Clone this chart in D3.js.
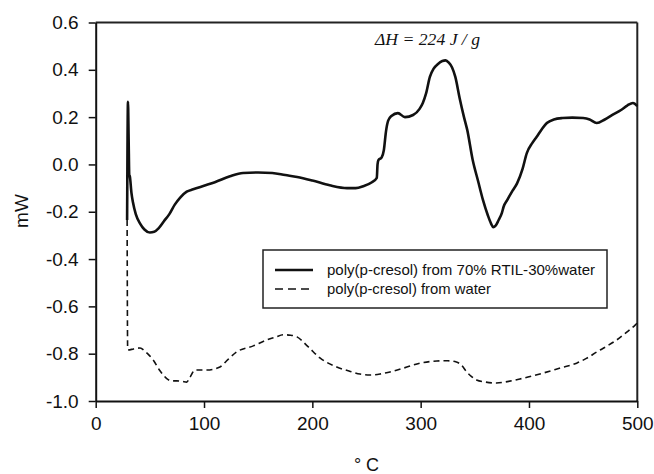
<!DOCTYPE html>
<html>
<head>
<meta charset="utf-8">
<script src="https://cdn.jsdelivr.net/npm/d3@7"></script>
<style>
  body { margin: 0; background: #fff; }
  svg { display: block; }
  .tick text { font-family: Arial, "Liberation Sans", sans-serif; font-size: 19px; fill: #111; }
</style>
</head>
<body>
<div id="chart"></div>
<script>

// temperature (°C) and heat flow (mW)
const tempsRtil = [29, 29.8, 30.4, 31, 31.5, 33, 34.4, 37, 41, 45, 50, 54, 58, 63, 68, 73, 78, 84, 90, 100,
  110, 124, 136, 150, 163, 175, 186, 200, 216, 232, 240, 247, 255, 259.5, 260.2, 261, 264, 266, 268, 270,
  273, 279, 285.5, 293, 299, 302, 305, 308.5, 312, 316, 320, 323, 326, 329, 332, 336, 340, 343, 348, 353,
  357.5, 362, 365, 367, 369, 372, 375, 376.5, 380, 385, 389, 394, 398, 403, 407, 412, 416.5, 423, 431, 440,
  450, 456, 462.5, 470, 477, 485, 491, 496, 500];
const valuesRtil = [-0.235, 0.265, 0.11, -0.045, -0.05, -0.12, -0.16, -0.21, -0.25, -0.275, -0.288, -0.285, -0.27, -0.24, -0.21, -0.17, -0.14, -0.115, -0.105, -0.09,
  -0.075, -0.05, -0.036, -0.034, -0.036, -0.045, -0.053, -0.068, -0.088, -0.1, -0.1, -0.092, -0.075, -0.057, 0.0, 0.018, 0.03, 0.06, 0.14, 0.185,
  0.205, 0.217, 0.2, 0.209, 0.235, 0.26, 0.3, 0.37, 0.405, 0.425, 0.437, 0.44, 0.43, 0.41, 0.37, 0.28, 0.2, 0.146, 0.02, -0.07,
  -0.15, -0.215, -0.25, -0.265, -0.26, -0.235, -0.205, -0.18, -0.15, -0.11, -0.08, -0.02, 0.048, 0.09, 0.116, 0.15, 0.175, 0.19, 0.196, 0.198,
  0.196, 0.19, 0.175, 0.19, 0.209, 0.23, 0.25, 0.26, 0.247];

const tempsWater = [29, 29.5, 30, 35, 41, 45.5, 49, 53, 59, 65.6, 70, 75, 80, 84, 87, 91.7, 102.7, 114.7, 122, 130,
  145.5, 158, 166, 173, 180, 185.8, 196, 207, 222.5, 235, 244, 253, 262.5, 271.6, 285, 299.4, 315, 325, 333, 338,
  342.5, 347, 351.6, 360, 370, 380, 391.6, 402, 413, 428, 444, 453, 462.5, 472, 481, 490, 498, 500];
const valuesWater = [-0.235, -0.78, -0.784, -0.78, -0.776, -0.79, -0.805, -0.826, -0.87, -0.905, -0.915, -0.915, -0.917, -0.92, -0.9, -0.869, -0.869, -0.856, -0.825, -0.793,
  -0.767, -0.742, -0.73, -0.72, -0.722, -0.729, -0.77, -0.818, -0.856, -0.875, -0.886, -0.89, -0.886, -0.877, -0.86, -0.84, -0.831, -0.83, -0.835, -0.85,
  -0.877, -0.897, -0.911, -0.92, -0.924, -0.918, -0.907, -0.895, -0.882, -0.862, -0.84, -0.82, -0.793, -0.768, -0.742, -0.71, -0.679, -0.67];

const xTicks = [0, 100, 200, 300, 400, 500];
const yTicks = [-1.0, -0.8, -0.6, -0.4, -0.2, 0.0, 0.2, 0.4, 0.6];
const legendLabels = ["poly(p-cresol) from 70% RTIL-30%water", "poly(p-cresol) from water"];

const width = 654, height = 474;
const margin = {top: 22.5, right: 16.7, bottom: 73, left: 95.7};

const svg = d3.select("#chart").append("svg")
  .attr("width", width)
  .attr("height", height);

const x_scale = d3.scaleLinear().domain([0, 500]).range([margin.left, width - margin.right]);
const y_scale = d3.scaleLinear().domain([-1.0, 0.6]).range([height - margin.bottom, margin.top]);

// frame (top and right sides)
svg.append("line")
  .attr("x1", x_scale(0)).attr("x2", x_scale(500))
  .attr("y1", y_scale(0.6)).attr("y2", y_scale(0.6))
  .attr("stroke", "#222").attr("stroke-width", 2);
svg.append("line")
  .attr("x1", x_scale(500)).attr("x2", x_scale(500))
  .attr("y1", y_scale(0.6)).attr("y2", y_scale(-1.0))
  .attr("stroke", "#222").attr("stroke-width", 2);

const xAxis = svg.append("g")
  .attr("transform", "translate(0," + y_scale(-1.0) + ")")
  .call(d3.axisBottom(x_scale).tickValues(xTicks).tickSize(7).tickPadding(9).tickSizeOuter(0).tickFormat(d => d.toString()));

const yAxis = svg.append("g")
  .attr("transform", "translate(" + x_scale(0) + ",0)")
  .call(d3.axisLeft(y_scale).tickValues(yTicks).tickSize(7).tickPadding(10).tickSizeOuter(0).tickFormat(d => d.toFixed(1)));

[xAxis, yAxis].forEach(function(g) {
  g.select(".domain").attr("stroke", "#111").attr("stroke-width", 2);
  g.selectAll(".tick line").attr("stroke", "#111").attr("stroke-width", 1.5);
});

// axis titles
svg.append("text")
  .attr("transform", "translate(28," + 211 + ") rotate(-90)")
  .attr("text-anchor", "middle")
  .style("font-family", "Arial, 'Liberation Sans', sans-serif")
  .style("font-size", "19px")
  .attr("fill", "#111")
  .text("mW");

svg.append("text")
  .attr("x", (x_scale(0) + x_scale(500)) / 2)
  .attr("y", 471)
  .attr("text-anchor", "middle")
  .style("font-family", "Arial, 'Liberation Sans', sans-serif")
  .style("font-size", "18px")
  .attr("fill", "#111")
  .text("° C");

// the two curves
const seriesRtil = tempsRtil.map((t, i) => ({t: t, v: valuesRtil[i]}));
const seriesWater = tempsWater.map((t, i) => ({t: t, v: valuesWater[i]}));

const line = d3.line()
  .x(d => x_scale(d.t))
  .y(d => y_scale(d.v))
  .curve(d3.curveMonotoneX);

svg.append("path")
  .datum(seriesWater)
  .attr("fill", "none")
  .attr("stroke", "#111")
  .attr("stroke-width", 1.6)
  .attr("stroke-dasharray", "6,4")
  .attr("d", line);

svg.append("path")
  .datum(seriesRtil)
  .attr("fill", "none")
  .attr("stroke", "#111")
  .attr("stroke-width", 2.6)
  .attr("stroke-linejoin", "round")
  .attr("d", line);

// annotation
svg.append("text")
  .attr("x", 375)
  .attr("y", 45)
  .attr("textLength", 105)
  .attr("lengthAdjust", "spacingAndGlyphs")
  .style("font-family", "'Liberation Serif', 'Times New Roman', serif")
  .style("font-size", "17px")
  .style("font-style", "italic")
  .attr("fill", "#111")
  .text("ΔH = 224 J / g");

// legend
const legend = svg.append("g");
legend.append("rect")
  .attr("x", 263).attr("y", 250)
  .attr("width", 344).attr("height", 58)
  .attr("fill", "#fff")
  .attr("stroke", "#222")
  .attr("stroke-width", 1.5);

const legendRows = [{dash: null, w: 2.6}, {dash: "8,5", w: 1.6}];
legendRows.forEach(function(r, i) {
  const yy = 270 + i * 19;
  legend.append("line")
    .attr("x1", 275).attr("x2", 313)
    .attr("y1", yy).attr("y2", yy)
    .attr("stroke", "#111")
    .attr("stroke-width", r.w)
    .attr("stroke-dasharray", r.dash);
  const txt = legend.append("text")
    .attr("x", 327)
    .attr("y", yy + 5)
    .style("font-family", "Arial, 'Liberation Sans', sans-serif")
    .style("font-size", "15px")
    .attr("fill", "#111")
    .text(legendLabels[i]);
  if (i === 0) txt.attr("textLength", 268).attr("lengthAdjust", "spacingAndGlyphs");
  else txt.attr("textLength", 164).attr("lengthAdjust", "spacingAndGlyphs");
});

</script>
</body>
</html>
